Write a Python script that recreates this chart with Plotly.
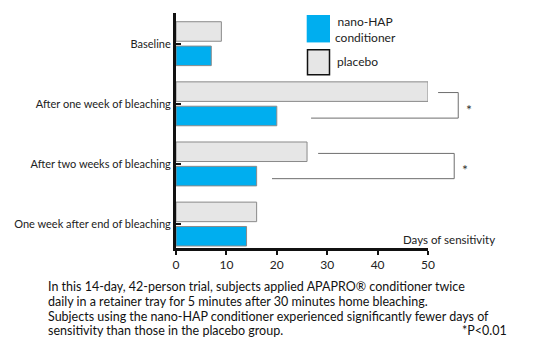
import plotly.graph_objects as go

categories = ["Baseline", "After one week of bleaching", "After two weeks of bleaching", "One week after end of bleaching"]
nano_hap = [7, 20, 16, 14]
placebo = [9, 50, 26, 16]
x_ticks = [0, 10, 20, 30, 40, 50]
series_names = ["nano-HAP<br>conditioner", "placebo"]
x_title = "Days of sensitivity"
caption_lines = [
    "In this 14-day, 42-person trial, subjects applied APAPRO\u00ae conditioner twice",
    "daily in a retainer tray for 5 minutes after 30 minutes home bleaching.",
    "Subjects using the nano-HAP conditioner experienced significantly fewer days of",
    "sensitivity than those in the placebo group.",
]
sig_note = "*P<0.01"
sig_pairs = [1, 2]

BLUE = "#00AEEF"
GRAY = "#E6E6E6"
EDGE = "#8a8a8a"
FONT = "Lato, Liberation Sans, Arial, sans-serif"

n = len(categories)
ypos = [n - 1 - i for i in range(n)]  # top to bottom
YMIN, YMAX = -0.398, 3.51
XMAX = 50
OFF = 8  # page body margin
L, R, T, B = 176, 428, 13, 248.5  # plot area in window pixels
W, H = 537 - 2 * OFF, 362 - 2 * OFF

fig = go.Figure()
fig.add_trace(go.Bar(y=ypos, x=placebo, orientation="h", width=0.325, offset=0.04,
                     marker=dict(color=GRAY, line=dict(color=EDGE, width=1)), showlegend=False))
fig.add_trace(go.Bar(y=ypos, x=nano_hap, orientation="h", width=0.325, offset=-0.365,
                     marker=dict(color=BLUE, line=dict(color=EDGE, width=1)), showlegend=False))

def px(v):
    return v / XMAX

def py(v):
    return (v - YMIN) / (YMAX - YMIN)

def ppx(pix):
    return (pix - L) / (R - L)

def ppy(pix):
    return (B - pix) / (B - T)

shapes = []
annotations = []
bracket_x = {1: 56.0, 2: 55.2}
start_off = {1: (2.0, 6.8), 2: (2.2, 3.05)}
top_off = {1: 0.187, 2: 0.175}
bot_off = {1: -0.238, 2: -0.245}
for idx in sig_pairs:
    yc = ypos[idx]
    y_top = yc + top_off[idx]
    y_bot = yc + bot_off[idx]
    bx = bracket_x[idx]
    p_off, n_off = start_off[idx]
    line = dict(color="#6e6e6e", width=1)
    shapes.append(dict(type="line", xref="paper", yref="paper", x0=px(placebo[idx] + p_off), x1=px(bx),
                       y0=py(y_top), y1=py(y_top), line=line))
    shapes.append(dict(type="line", xref="paper", yref="paper", x0=px(bx), x1=px(bx),
                       y0=py(y_top), y1=py(y_bot), line=line))
    shapes.append(dict(type="line", xref="paper", yref="paper", x0=px(nano_hap[idx] + n_off), x1=px(bx),
                       y0=py(y_bot), y1=py(y_bot), line=line))
    annotations.append(dict(text="*", xref="paper", yref="paper", x=px(bx + 1.1), y=py(yc - 0.09),
                            xanchor="left", yanchor="middle", showarrow=False,
                            font=dict(family=FONT, size=14, color="#333")))

# legend swatches
shapes.append(dict(type="rect", xref="paper", yref="paper", x0=ppx(306.7), x1=ppx(330),
                   y0=ppy(15), y1=ppy(42.5), fillcolor=BLUE, line=dict(width=0)))
shapes.append(dict(type="rect", xref="paper", yref="paper", x0=ppx(307.5), x1=ppx(329.5),
                   y0=ppy(49.8), y1=ppy(75), fillcolor=GRAY, line=dict(color="#111", width=1.5)))
annotations.append(dict(text=series_names[0], xref="paper", yref="paper", x=ppx(365), y=ppy(29.5),
                        xanchor="center", yanchor="middle", showarrow=False, align="center",
                        font=dict(family=FONT, size=12, color="#222")))
annotations.append(dict(text=series_names[1], xref="paper", yref="paper", x=ppx(335), y=ppy(62),
                        xanchor="left", yanchor="middle", showarrow=False,
                        font=dict(family=FONT, size=12, color="#222")))
annotations.append(dict(text=x_title, xref="paper", yref="paper", x=ppx(449), y=ppy(240),
                        xanchor="center", yanchor="middle", showarrow=False,
                        font=dict(family=FONT, size=11.5, color="#222")))
centers = [287.5, 302.2, 316.9, 331.6]
for txt, yy in zip(caption_lines, centers):
    annotations.append(dict(text=txt, xref="paper", yref="paper", x=ppx(46), y=ppy(yy),
                            xanchor="left", yanchor="middle", showarrow=False, align="left",
                            font=dict(family=FONT, size=12.5, color="#111")))
annotations.append(dict(text=sig_note, xref="paper", yref="paper", x=ppx(509), y=ppy(331.6),
                        xanchor="right", yanchor="middle", showarrow=False,
                        font=dict(family=FONT, size=12.5, color="#111")))

fig.update_layout(
    width=W, height=H,
    margin=dict(l=L - OFF, r=W - (R - OFF), t=T - OFF, b=H - (B - OFF)),
    paper_bgcolor="white", plot_bgcolor="white",
    barmode="overlay",
    shapes=shapes, annotations=annotations,
    xaxis=dict(range=[0, XMAX], tickvals=x_ticks, showgrid=False, zeroline=False, automargin=False,
               showline=True, linecolor="#111", linewidth=3,
               ticks="outside", ticklen=4, tickwidth=2, tickcolor="#111",
               tickfont=dict(family=FONT, size=12, color="#222")),
    yaxis=dict(range=[YMIN, YMAX], tickvals=ypos, ticktext=categories, showgrid=False, zeroline=False,
               automargin=False,
               showline=True, linecolor="#111", linewidth=3,
               ticks="inside", ticklen=5, tickwidth=2, tickcolor="#111",
               tickfont=dict(family=FONT, size=11, color="#222")),
)

fig.write_html("out.html")
